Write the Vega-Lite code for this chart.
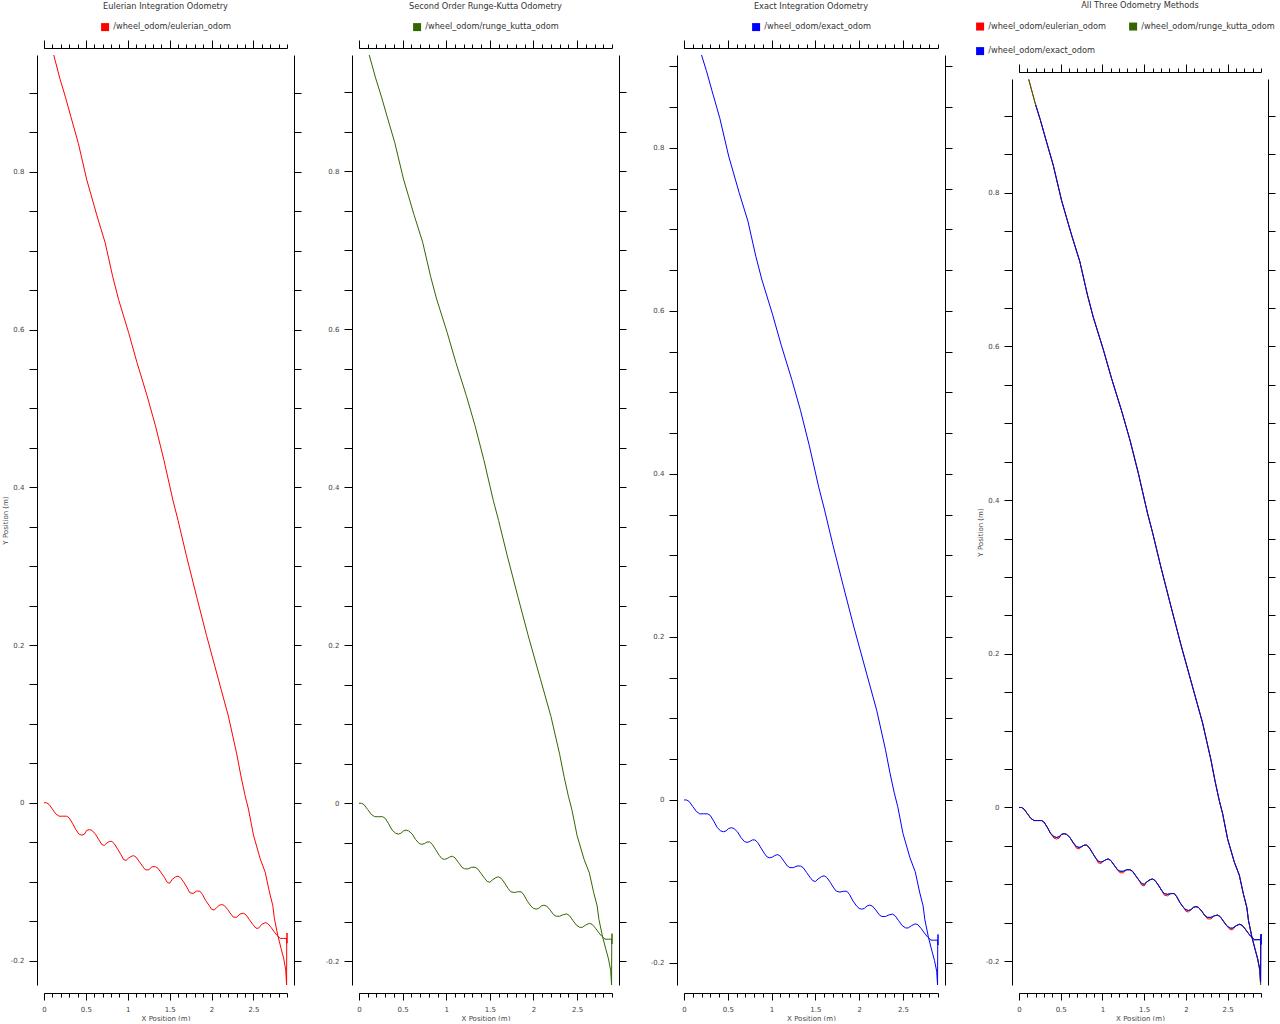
{
"$schema":"https://vega.github.io/schema/vega-lite/v6.json",
"padding":{"left":1,"top":0,"right":0,"bottom":0},
"spacing":23,
"datasets":{
"e":[{"x":0,"y":0},{"x":0.03,"y":0},{"x":0.06,"y":-0.002},{"x":0.1,"y":-0.008},{"x":0.14,"y":-0.014},{"x":0.18,"y":-0.017},{"x":0.22,"y":-0.017},{"x":0.27,"y":-0.017},{"x":0.3,"y":-0.019},{"x":0.34,"y":-0.026},{"x":0.38,"y":-0.034},{"x":0.42,"y":-0.04},{"x":0.45,"y":-0.041},{"x":0.48,"y":-0.04},{"x":0.51,"y":-0.035},{"x":0.54,"y":-0.034},{"x":0.57,"y":-0.035},{"x":0.61,"y":-0.039},{"x":0.65,"y":-0.046},{"x":0.69,"y":-0.053},{"x":0.72,"y":-0.054},{"x":0.75,"y":-0.051},{"x":0.78,"y":-0.049},{"x":0.81,"y":-0.049},{"x":0.84,"y":-0.052},{"x":0.88,"y":-0.059},{"x":0.92,"y":-0.066},{"x":0.95,"y":-0.072},{"x":0.98,"y":-0.073},{"x":1.01,"y":-0.07},{"x":1.04,"y":-0.068},{"x":1.07,"y":-0.067},{"x":1.1,"y":-0.069},{"x":1.14,"y":-0.075},{"x":1.18,"y":-0.081},{"x":1.21,"y":-0.085},{"x":1.25,"y":-0.085},{"x":1.29,"y":-0.081},{"x":1.33,"y":-0.081},{"x":1.36,"y":-0.083},{"x":1.4,"y":-0.089},{"x":1.44,"y":-0.095},{"x":1.47,"y":-0.101},{"x":1.5,"y":-0.102},{"x":1.53,"y":-0.097},{"x":1.57,"y":-0.094},{"x":1.6,"y":-0.093},{"x":1.63,"y":-0.095},{"x":1.67,"y":-0.101},{"x":1.71,"y":-0.108},{"x":1.74,"y":-0.114},{"x":1.78,"y":-0.115},{"x":1.82,"y":-0.112},{"x":1.86,"y":-0.112},{"x":1.89,"y":-0.116},{"x":1.93,"y":-0.124},{"x":1.97,"y":-0.13},{"x":2,"y":-0.135},{"x":2.03,"y":-0.136},{"x":2.06,"y":-0.133},{"x":2.09,"y":-0.13},{"x":2.12,"y":-0.129},{"x":2.15,"y":-0.13},{"x":2.19,"y":-0.135},{"x":2.23,"y":-0.141},{"x":2.26,"y":-0.145},{"x":2.3,"y":-0.145},{"x":2.34,"y":-0.141},{"x":2.38,"y":-0.14},{"x":2.41,"y":-0.142},{"x":2.45,"y":-0.148},{"x":2.49,"y":-0.154},{"x":2.53,"y":-0.159},{"x":2.56,"y":-0.159},{"x":2.6,"y":-0.154},{"x":2.64,"y":-0.152},{"x":2.67,"y":-0.153},{"x":2.71,"y":-0.158},{"x":2.75,"y":-0.164},{"x":2.78,"y":-0.168},{"x":2.82,"y":-0.172},{"x":2.86,"y":-0.172},{"x":2.9,"y":-0.172},{"x":2.9,"y":-0.165},{"x":2.9,"y":-0.178},{"x":2.897,"y":-0.172},{"x":2.895,"y":-0.231},{"x":2.885,"y":-0.212},{"x":2.86,"y":-0.197},{"x":2.83,"y":-0.185},{"x":2.79,"y":-0.168},{"x":2.75,"y":-0.147},{"x":2.73,"y":-0.13},{"x":2.69,"y":-0.113},{"x":2.64,"y":-0.088},{"x":2.58,"y":-0.071},{"x":2.5,"y":-0.041},{"x":2.44,"y":-0.008},{"x":2.4,"y":0.009},{"x":2.35,"y":0.034},{"x":2.3,"y":0.062},{"x":2.2,"y":0.11},{"x":2.08,"y":0.157},{"x":1.94,"y":0.212},{"x":1.82,"y":0.262},{"x":1.7,"y":0.313},{"x":1.6,"y":0.358},{"x":1.54,"y":0.383},{"x":1.43,"y":0.435},{"x":1.33,"y":0.478},{"x":1.23,"y":0.516},{"x":1.11,"y":0.558},{"x":1.01,"y":0.596},{"x":0.89,"y":0.638},{"x":0.82,"y":0.667},{"x":0.73,"y":0.71},{"x":0.63,"y":0.745},{"x":0.51,"y":0.79},{"x":0.41,"y":0.836},{"x":0.32,"y":0.87},{"x":0.255,"y":0.895},{"x":0.19,"y":0.918},{"x":0.116,"y":0.948}],
"r":[{"x":0,"y":0},{"x":0.03,"y":0},{"x":0.06,"y":-0.002},{"x":0.1,"y":-0.008},{"x":0.14,"y":-0.014},{"x":0.18,"y":-0.017},{"x":0.22,"y":-0.017},{"x":0.27,"y":-0.017},{"x":0.3,"y":-0.019},{"x":0.34,"y":-0.026},{"x":0.38,"y":-0.034},{"x":0.42,"y":-0.038},{"x":0.45,"y":-0.039},{"x":0.48,"y":-0.038},{"x":0.51,"y":-0.035},{"x":0.54,"y":-0.034},{"x":0.57,"y":-0.035},{"x":0.61,"y":-0.039},{"x":0.65,"y":-0.046},{"x":0.69,"y":-0.051},{"x":0.72,"y":-0.052},{"x":0.75,"y":-0.051},{"x":0.78,"y":-0.049},{"x":0.81,"y":-0.049},{"x":0.84,"y":-0.052},{"x":0.88,"y":-0.059},{"x":0.92,"y":-0.066},{"x":0.95,"y":-0.07},{"x":0.98,"y":-0.071},{"x":1.01,"y":-0.07},{"x":1.04,"y":-0.068},{"x":1.07,"y":-0.067},{"x":1.1,"y":-0.069},{"x":1.14,"y":-0.075},{"x":1.18,"y":-0.081},{"x":1.21,"y":-0.083},{"x":1.25,"y":-0.083},{"x":1.29,"y":-0.081},{"x":1.33,"y":-0.081},{"x":1.36,"y":-0.083},{"x":1.4,"y":-0.089},{"x":1.44,"y":-0.095},{"x":1.47,"y":-0.099},{"x":1.5,"y":-0.1},{"x":1.53,"y":-0.097},{"x":1.57,"y":-0.094},{"x":1.6,"y":-0.093},{"x":1.63,"y":-0.095},{"x":1.67,"y":-0.101},{"x":1.71,"y":-0.108},{"x":1.74,"y":-0.112},{"x":1.78,"y":-0.113},{"x":1.82,"y":-0.112},{"x":1.86,"y":-0.112},{"x":1.89,"y":-0.116},{"x":1.93,"y":-0.124},{"x":1.97,"y":-0.13},{"x":2,"y":-0.133},{"x":2.03,"y":-0.134},{"x":2.06,"y":-0.133},{"x":2.09,"y":-0.13},{"x":2.12,"y":-0.129},{"x":2.15,"y":-0.13},{"x":2.19,"y":-0.135},{"x":2.23,"y":-0.141},{"x":2.26,"y":-0.143},{"x":2.3,"y":-0.143},{"x":2.34,"y":-0.141},{"x":2.38,"y":-0.14},{"x":2.41,"y":-0.142},{"x":2.45,"y":-0.148},{"x":2.49,"y":-0.154},{"x":2.53,"y":-0.157},{"x":2.56,"y":-0.157},{"x":2.6,"y":-0.154},{"x":2.64,"y":-0.152},{"x":2.67,"y":-0.153},{"x":2.71,"y":-0.158},{"x":2.75,"y":-0.164},{"x":2.78,"y":-0.168},{"x":2.82,"y":-0.172},{"x":2.86,"y":-0.172},{"x":2.9,"y":-0.172},{"x":2.9,"y":-0.165},{"x":2.9,"y":-0.178},{"x":2.897,"y":-0.172},{"x":2.895,"y":-0.23},{"x":2.885,"y":-0.212},{"x":2.86,"y":-0.197},{"x":2.83,"y":-0.185},{"x":2.79,"y":-0.168},{"x":2.75,"y":-0.147},{"x":2.73,"y":-0.13},{"x":2.69,"y":-0.113},{"x":2.64,"y":-0.088},{"x":2.58,"y":-0.071},{"x":2.5,"y":-0.041},{"x":2.44,"y":-0.008},{"x":2.4,"y":0.009},{"x":2.35,"y":0.034},{"x":2.3,"y":0.062},{"x":2.2,"y":0.11},{"x":2.08,"y":0.157},{"x":1.94,"y":0.212},{"x":1.82,"y":0.262},{"x":1.7,"y":0.313},{"x":1.6,"y":0.358},{"x":1.54,"y":0.383},{"x":1.43,"y":0.435},{"x":1.33,"y":0.478},{"x":1.23,"y":0.516},{"x":1.11,"y":0.558},{"x":1.01,"y":0.596},{"x":0.89,"y":0.638},{"x":0.82,"y":0.667},{"x":0.73,"y":0.71},{"x":0.63,"y":0.745},{"x":0.51,"y":0.79},{"x":0.41,"y":0.836},{"x":0.32,"y":0.87},{"x":0.255,"y":0.895},{"x":0.19,"y":0.918},{"x":0.117,"y":0.947}],
"x":[{"x":0,"y":0},{"x":0.03,"y":0},{"x":0.06,"y":-0.002},{"x":0.1,"y":-0.008},{"x":0.14,"y":-0.014},{"x":0.18,"y":-0.017},{"x":0.22,"y":-0.017},{"x":0.27,"y":-0.017},{"x":0.3,"y":-0.019},{"x":0.34,"y":-0.026},{"x":0.38,"y":-0.034},{"x":0.42,"y":-0.038},{"x":0.45,"y":-0.039},{"x":0.48,"y":-0.038},{"x":0.51,"y":-0.035},{"x":0.54,"y":-0.034},{"x":0.57,"y":-0.035},{"x":0.61,"y":-0.039},{"x":0.65,"y":-0.046},{"x":0.69,"y":-0.051},{"x":0.72,"y":-0.052},{"x":0.75,"y":-0.051},{"x":0.78,"y":-0.049},{"x":0.81,"y":-0.049},{"x":0.84,"y":-0.052},{"x":0.88,"y":-0.059},{"x":0.92,"y":-0.066},{"x":0.95,"y":-0.07},{"x":0.98,"y":-0.071},{"x":1.01,"y":-0.07},{"x":1.04,"y":-0.068},{"x":1.07,"y":-0.067},{"x":1.1,"y":-0.069},{"x":1.14,"y":-0.075},{"x":1.18,"y":-0.081},{"x":1.21,"y":-0.083},{"x":1.25,"y":-0.083},{"x":1.29,"y":-0.081},{"x":1.33,"y":-0.081},{"x":1.36,"y":-0.083},{"x":1.4,"y":-0.089},{"x":1.44,"y":-0.095},{"x":1.47,"y":-0.099},{"x":1.5,"y":-0.1},{"x":1.53,"y":-0.097},{"x":1.57,"y":-0.094},{"x":1.6,"y":-0.093},{"x":1.63,"y":-0.095},{"x":1.67,"y":-0.101},{"x":1.71,"y":-0.108},{"x":1.74,"y":-0.112},{"x":1.78,"y":-0.113},{"x":1.82,"y":-0.112},{"x":1.86,"y":-0.112},{"x":1.89,"y":-0.116},{"x":1.93,"y":-0.124},{"x":1.97,"y":-0.13},{"x":2,"y":-0.133},{"x":2.03,"y":-0.134},{"x":2.06,"y":-0.133},{"x":2.09,"y":-0.13},{"x":2.12,"y":-0.129},{"x":2.15,"y":-0.13},{"x":2.19,"y":-0.135},{"x":2.23,"y":-0.141},{"x":2.26,"y":-0.143},{"x":2.3,"y":-0.143},{"x":2.34,"y":-0.141},{"x":2.38,"y":-0.14},{"x":2.41,"y":-0.142},{"x":2.45,"y":-0.148},{"x":2.49,"y":-0.154},{"x":2.53,"y":-0.157},{"x":2.56,"y":-0.157},{"x":2.6,"y":-0.154},{"x":2.64,"y":-0.152},{"x":2.67,"y":-0.153},{"x":2.71,"y":-0.158},{"x":2.75,"y":-0.164},{"x":2.78,"y":-0.168},{"x":2.82,"y":-0.172},{"x":2.86,"y":-0.172},{"x":2.9,"y":-0.172},{"x":2.9,"y":-0.165},{"x":2.9,"y":-0.178},{"x":2.897,"y":-0.172},{"x":2.895,"y":-0.227},{"x":2.885,"y":-0.21},{"x":2.86,"y":-0.197},{"x":2.83,"y":-0.185},{"x":2.79,"y":-0.168},{"x":2.75,"y":-0.147},{"x":2.73,"y":-0.13},{"x":2.69,"y":-0.113},{"x":2.64,"y":-0.088},{"x":2.58,"y":-0.071},{"x":2.5,"y":-0.041},{"x":2.44,"y":-0.008},{"x":2.4,"y":0.009},{"x":2.35,"y":0.034},{"x":2.3,"y":0.062},{"x":2.2,"y":0.11},{"x":2.08,"y":0.157},{"x":1.94,"y":0.212},{"x":1.82,"y":0.262},{"x":1.7,"y":0.313},{"x":1.6,"y":0.358},{"x":1.54,"y":0.383},{"x":1.43,"y":0.435},{"x":1.33,"y":0.478},{"x":1.23,"y":0.516},{"x":1.11,"y":0.558},{"x":1.01,"y":0.596},{"x":0.89,"y":0.638},{"x":0.82,"y":0.667},{"x":0.73,"y":0.71},{"x":0.63,"y":0.745},{"x":0.51,"y":0.79},{"x":0.41,"y":0.836},{"x":0.32,"y":0.87},{"x":0.255,"y":0.895},{"x":0.2,"y":0.914}]
},
"hconcat":[
{"width":243,"height":930,"title":"Eulerian Integration Odometry","data":{"name":"e"},
"layer":[
{"mark":{"type":"line","strokeWidth":1},"encoding":{
"x":{"field":"x","type":"quantitative","scale":{"domain":[0,2.9],"nice":false,"zero":false},"axis":{"orient":"bottom","offset":8,"values":[0,0.5,1,1.5,2,2.5],"tickSize":7,"format":"~g","labelPadding":5,"title":"X Position (m)","titlePadding":2}},
"y":{"field":"y","type":"quantitative","scale":{"domain":[-0.231,0.948],"nice":false,"zero":false},"axis":{"orient":"left","offset":7,"values":[-0.2,-0.15,-0.1,-0.05,0,0.05,0.1,0.15,0.2,0.25,0.3,0.35,0.4,0.45,0.5,0.55,0.6,0.65,0.7,0.75,0.8,0.85,0.9],"tickSize":8,"format":"~g","labelPadding":5,"labelExpr":"abs(datum.value*5-round(datum.value*5))<0.0001 ? replace(datum.label,'\u2212','-') : ''","title":"Y Position (m)","titlePadding":2}},
"color":{"datum":"/wheel_odom/eulerian_odom","type":"nominal","scale":{"domain":["/wheel_odom/eulerian_odom"],"range":["#ff0000"]},"legend":{"orient":"top","title":null,"symbolType":"square","symbolSize":16,"symbolStrokeWidth":4,"symbolOpacity":1,"labelFont":"DejaVu Sans","labelFontSize":8.2,"labelColor":"#333333","offset":1,"labelOffset":4}},
"order":{"value":null}}},
{"mark":{"type":"line","strokeOpacity":0},"encoding":{
"x":{"field":"x","type":"quantitative","scale":{"domain":[0,2.9],"nice":false,"zero":false},"axis":{"orient":"bottom","offset":8,"values":[0,0.1,0.2,0.3,0.4,0.5,0.6,0.7,0.8,0.9,1,1.1,1.2,1.3,1.4,1.5,1.6,1.7,1.8,1.9,2,2.1,2.2,2.3,2.4,2.5,2.6,2.7,2.8,2.9],"tickSize":4,"labels":false,"domain":false,"title":null}},
"y":{"field":"y","type":"quantitative","scale":{"domain":[-0.231,0.948],"nice":false,"zero":false},"axis":{"orient":"right","offset":7,"values":[-0.2,-0.15,-0.1,-0.05,0,0.05,0.1,0.15,0.2,0.25,0.3,0.35,0.4,0.45,0.5,0.55,0.6,0.65,0.7,0.75,0.8,0.85,0.9],"tickSize":7,"labels":false,"title":null}},
"order":{"value":null}}},
{"mark":{"type":"line","strokeOpacity":0},"encoding":{
"x":{"field":"x","type":"quantitative","scale":{"domain":[0,2.9],"nice":false,"zero":false},"axis":{"orient":"top","offset":7,"values":[0,0.5,1,1.5,2,2.5],"tickSize":8,"labels":false,"title":null}},
"y":{"field":"y","type":"quantitative","scale":{"domain":[-0.231,0.948],"nice":false,"zero":false},"axis":null},
"order":{"value":null}}},
{"mark":{"type":"line","strokeOpacity":0},"encoding":{
"x":{"field":"x","type":"quantitative","scale":{"domain":[0,2.9],"nice":false,"zero":false},"axis":{"orient":"top","offset":7,"values":[0,0.1,0.2,0.3,0.4,0.5,0.6,0.7,0.8,0.9,1,1.1,1.2,1.3,1.4,1.5,1.6,1.7,1.8,1.9,2,2.1,2.2,2.3,2.4,2.5,2.6,2.7,2.8,2.9],"tickSize":4,"labels":false,"domain":false,"title":null}},
"y":{"field":"y","type":"quantitative","scale":{"domain":[-0.231,0.948],"nice":false,"zero":false},"axis":null},
"order":{"value":null}}}
],
"resolve":{"scale":{"x":"independent","y":"independent"}}},

{"width":253,"height":930,"title":"Second Order Runge-Kutta Odometry","data":{"name":"r"},
"layer":[
{"mark":{"type":"line","strokeWidth":1},"encoding":{
"x":{"field":"x","type":"quantitative","scale":{"domain":[0,2.9],"nice":false,"zero":false},"axis":{"orient":"bottom","offset":8,"values":[0,0.5,1,1.5,2,2.5],"tickSize":7,"format":"~g","labelPadding":5,"title":"X Position (m)","titlePadding":2}},
"y":{"field":"y","type":"quantitative","scale":{"domain":[-0.23,0.947],"nice":false,"zero":false},"axis":{"orient":"left","offset":7,"values":[-0.2,-0.15,-0.1,-0.05,0,0.05,0.1,0.15,0.2,0.25,0.3,0.35,0.4,0.45,0.5,0.55,0.6,0.65,0.7,0.75,0.8,0.85,0.9],"tickSize":8,"format":"~g","labelPadding":5,"labelExpr":"abs(datum.value*5-round(datum.value*5))<0.0001 ? replace(datum.label,'\u2212','-') : ''","title":null}},
"color":{"datum":"/wheel_odom/runge_kutta_odom","type":"nominal","scale":{"domain":["/wheel_odom/runge_kutta_odom"],"range":["#336600"]},"legend":{"orient":"top","title":null,"symbolType":"square","symbolSize":16,"symbolStrokeWidth":4,"symbolOpacity":1,"labelFont":"DejaVu Sans","labelFontSize":8.2,"labelColor":"#333333","offset":1,"labelOffset":4}},
"order":{"value":null}}},
{"mark":{"type":"line","strokeOpacity":0},"encoding":{
"x":{"field":"x","type":"quantitative","scale":{"domain":[0,2.9],"nice":false,"zero":false},"axis":{"orient":"bottom","offset":8,"values":[0,0.1,0.2,0.3,0.4,0.5,0.6,0.7,0.8,0.9,1,1.1,1.2,1.3,1.4,1.5,1.6,1.7,1.8,1.9,2,2.1,2.2,2.3,2.4,2.5,2.6,2.7,2.8,2.9],"tickSize":4,"labels":false,"domain":false,"title":null}},
"y":{"field":"y","type":"quantitative","scale":{"domain":[-0.23,0.947],"nice":false,"zero":false},"axis":{"orient":"right","offset":7,"values":[-0.2,-0.15,-0.1,-0.05,0,0.05,0.1,0.15,0.2,0.25,0.3,0.35,0.4,0.45,0.5,0.55,0.6,0.65,0.7,0.75,0.8,0.85,0.9],"tickSize":7,"labels":false,"title":null}},
"order":{"value":null}}},
{"mark":{"type":"line","strokeOpacity":0},"encoding":{
"x":{"field":"x","type":"quantitative","scale":{"domain":[0,2.9],"nice":false,"zero":false},"axis":{"orient":"top","offset":7,"values":[0,0.5,1,1.5,2,2.5],"tickSize":8,"labels":false,"title":null}},
"y":{"field":"y","type":"quantitative","scale":{"domain":[-0.23,0.947],"nice":false,"zero":false},"axis":null},
"order":{"value":null}}},
{"mark":{"type":"line","strokeOpacity":0},"encoding":{
"x":{"field":"x","type":"quantitative","scale":{"domain":[0,2.9],"nice":false,"zero":false},"axis":{"orient":"top","offset":7,"values":[0,0.1,0.2,0.3,0.4,0.5,0.6,0.7,0.8,0.9,1,1.1,1.2,1.3,1.4,1.5,1.6,1.7,1.8,1.9,2,2.1,2.2,2.3,2.4,2.5,2.6,2.7,2.8,2.9],"tickSize":4,"labels":false,"domain":false,"title":null}},
"y":{"field":"y","type":"quantitative","scale":{"domain":[-0.23,0.947],"nice":false,"zero":false},"axis":null},
"order":{"value":null}}}
],
"resolve":{"scale":{"x":"independent","y":"independent"}}},

{"width":254,"height":930,"title":"Exact Integration Odometry","data":{"name":"x"},
"layer":[
{"mark":{"type":"line","strokeWidth":1},"encoding":{
"x":{"field":"x","type":"quantitative","scale":{"domain":[0,2.9],"nice":false,"zero":false},"axis":{"orient":"bottom","offset":8,"values":[0,0.5,1,1.5,2,2.5],"tickSize":7,"format":"~g","labelPadding":5,"title":"X Position (m)","titlePadding":2}},
"y":{"field":"y","type":"quantitative","scale":{"domain":[-0.227,0.914],"nice":false,"zero":false},"axis":{"orient":"left","offset":7,"values":[-0.2,-0.15,-0.1,-0.05,0,0.05,0.1,0.15,0.2,0.25,0.3,0.35,0.4,0.45,0.5,0.55,0.6,0.65,0.7,0.75,0.8,0.85,0.9],"tickSize":8,"format":"~g","labelPadding":5,"labelExpr":"abs(datum.value*5-round(datum.value*5))<0.0001 ? replace(datum.label,'\u2212','-') : ''","title":null}},
"color":{"datum":"/wheel_odom/exact_odom","type":"nominal","scale":{"domain":["/wheel_odom/exact_odom"],"range":["#0000ff"]},"legend":{"orient":"top","title":null,"symbolType":"square","symbolSize":16,"symbolStrokeWidth":4,"symbolOpacity":1,"labelFont":"DejaVu Sans","labelFontSize":8.2,"labelColor":"#333333","offset":1,"labelOffset":4}},
"order":{"value":null}}},
{"mark":{"type":"line","strokeOpacity":0},"encoding":{
"x":{"field":"x","type":"quantitative","scale":{"domain":[0,2.9],"nice":false,"zero":false},"axis":{"orient":"bottom","offset":8,"values":[0,0.1,0.2,0.3,0.4,0.5,0.6,0.7,0.8,0.9,1,1.1,1.2,1.3,1.4,1.5,1.6,1.7,1.8,1.9,2,2.1,2.2,2.3,2.4,2.5,2.6,2.7,2.8,2.9],"tickSize":4,"labels":false,"domain":false,"title":null}},
"y":{"field":"y","type":"quantitative","scale":{"domain":[-0.227,0.914],"nice":false,"zero":false},"axis":{"orient":"right","offset":7,"values":[-0.2,-0.15,-0.1,-0.05,0,0.05,0.1,0.15,0.2,0.25,0.3,0.35,0.4,0.45,0.5,0.55,0.6,0.65,0.7,0.75,0.8,0.85,0.9],"tickSize":7,"labels":false,"title":null}},
"order":{"value":null}}},
{"mark":{"type":"line","strokeOpacity":0},"encoding":{
"x":{"field":"x","type":"quantitative","scale":{"domain":[0,2.9],"nice":false,"zero":false},"axis":{"orient":"top","offset":7,"values":[0,0.5,1,1.5,2,2.5],"tickSize":8,"labels":false,"title":null}},
"y":{"field":"y","type":"quantitative","scale":{"domain":[-0.227,0.914],"nice":false,"zero":false},"axis":null},
"order":{"value":null}}},
{"mark":{"type":"line","strokeOpacity":0},"encoding":{
"x":{"field":"x","type":"quantitative","scale":{"domain":[0,2.9],"nice":false,"zero":false},"axis":{"orient":"top","offset":7,"values":[0,0.1,0.2,0.3,0.4,0.5,0.6,0.7,0.8,0.9,1,1.1,1.2,1.3,1.4,1.5,1.6,1.7,1.8,1.9,2,2.1,2.2,2.3,2.4,2.5,2.6,2.7,2.8,2.9],"tickSize":4,"labels":false,"domain":false,"title":null}},
"y":{"field":"y","type":"quantitative","scale":{"domain":[-0.227,0.914],"nice":false,"zero":false},"axis":null},
"order":{"value":null}}}
],
"resolve":{"scale":{"x":"independent","y":"independent"}}},

{"width":242,"height":930,"title":"All Three Odometry Methods",
"layer":[
{"layer":[
{"data":{"name":"e"},"mark":{"type":"line","strokeWidth":1},"encoding":{
"x":{"field":"x","type":"quantitative","scale":{"domain":[0,2.9],"nice":false,"zero":false},"axis":{"orient":"bottom","offset":8,"values":[0,0.5,1,1.5,2,2.5],"tickSize":7,"format":"~g","labelPadding":5,"title":"X Position (m)","titlePadding":2}},
"y":{"field":"y","type":"quantitative","scale":{"domain":[-0.231,0.948],"range":[930,24],"nice":false,"zero":false},"axis":{"orient":"left","offset":7,"values":[-0.2,-0.15,-0.1,-0.05,0,0.05,0.1,0.15,0.2,0.25,0.3,0.35,0.4,0.45,0.5,0.55,0.6,0.65,0.7,0.75,0.8,0.85,0.9],"tickSize":8,"format":"~g","labelPadding":5,"labelExpr":"abs(datum.value*5-round(datum.value*5))<0.0001 ? replace(datum.label,'\u2212','-') : ''","title":"Y Position (m)","titlePadding":2}},
"color":{"datum":"/wheel_odom/eulerian_odom","type":"nominal","scale":{"domain":["/wheel_odom/eulerian_odom","/wheel_odom/runge_kutta_odom","/wheel_odom/exact_odom"],"range":["#ff0000","#336600","#0000ff"]},"legend":{"orient":"none","legendX":-43,"legendY":-33,"columns":2,"columnPadding":17,"rowPadding":4,"direction":"horizontal","title":null,"symbolType":"square","symbolSize":16,"symbolStrokeWidth":4,"symbolOpacity":1,"labelFont":"DejaVu Sans","labelFontSize":8.2,"labelColor":"#333333","labelOffset":4}},
"order":{"value":null}}},
{"data":{"name":"r"},"mark":{"type":"line","strokeWidth":1},"encoding":{
"x":{"field":"x","type":"quantitative"},
"y":{"field":"y","type":"quantitative"},
"color":{"datum":"/wheel_odom/runge_kutta_odom","type":"nominal"},
"order":{"value":null}}},
{"data":{"name":"x"},"mark":{"type":"line","strokeWidth":1},"encoding":{
"x":{"field":"x","type":"quantitative"},
"y":{"field":"y","type":"quantitative"},
"color":{"datum":"/wheel_odom/exact_odom","type":"nominal"},
"order":{"value":null}}}
]},
{"data":{"name":"e"},"mark":{"type":"line","strokeOpacity":0},"encoding":{
"x":{"field":"x","type":"quantitative","scale":{"domain":[0,2.9],"nice":false,"zero":false},"axis":{"orient":"bottom","offset":8,"values":[0,0.1,0.2,0.3,0.4,0.5,0.6,0.7,0.8,0.9,1,1.1,1.2,1.3,1.4,1.5,1.6,1.7,1.8,1.9,2,2.1,2.2,2.3,2.4,2.5,2.6,2.7,2.8,2.9],"tickSize":4,"labels":false,"domain":false,"title":null}},
"y":{"field":"y","type":"quantitative","scale":{"domain":[-0.231,0.948],"range":[930,24],"nice":false,"zero":false},"axis":{"orient":"right","offset":7,"values":[-0.2,-0.15,-0.1,-0.05,0,0.05,0.1,0.15,0.2,0.25,0.3,0.35,0.4,0.45,0.5,0.55,0.6,0.65,0.7,0.75,0.8,0.85,0.9],"tickSize":7,"labels":false,"title":null}},
"order":{"value":null}}},
{"data":{"name":"e"},"mark":{"type":"line","strokeOpacity":0},"encoding":{
"x":{"field":"x","type":"quantitative","scale":{"domain":[0,2.9],"nice":false,"zero":false},"axis":{"orient":"top","offset":-17,"values":[0,0.5,1,1.5,2,2.5],"tickSize":8,"labels":false,"title":null}},
"y":{"field":"y","type":"quantitative","scale":{"domain":[-0.231,0.948],"range":[930,24],"nice":false,"zero":false},"axis":null},
"order":{"value":null}}},
{"data":{"name":"e"},"mark":{"type":"line","strokeOpacity":0},"encoding":{
"x":{"field":"x","type":"quantitative","scale":{"domain":[0,2.9],"nice":false,"zero":false},"axis":{"orient":"top","offset":-17,"values":[0,0.1,0.2,0.3,0.4,0.5,0.6,0.7,0.8,0.9,1,1.1,1.2,1.3,1.4,1.5,1.6,1.7,1.8,1.9,2,2.1,2.2,2.3,2.4,2.5,2.6,2.7,2.8,2.9],"tickSize":4,"labels":false,"domain":false,"title":null}},
"y":{"field":"y","type":"quantitative","scale":{"domain":[-0.231,0.948],"range":[930,24],"nice":false,"zero":false},"axis":null},
"order":{"value":null}}}
],
"resolve":{"scale":{"x":"independent","y":"independent"}}}
],
"resolve":{"scale":{"color":"independent"}},
"config":{
"view":{"stroke":null},
"font":"DejaVu Sans",
"title":{"font":"DejaVu Sans","fontSize":8.2,"fontWeight":"normal","color":"#333333","offset":12},
"axis":{"grid":false,"domainColor":"#000000","tickColor":"#000000","domainWidth":1,"tickWidth":1,"labelFont":"DejaVu Sans","labelFontSize":7,"labelColor":"#444444","titleFont":"DejaVu Sans","titleFontSize":7,"titleFontWeight":"normal","titleColor":"#444444","labelFlush":false,"labelOverlap":false},
"legend":{"layout":{"top":{"anchor":"middle"}}}
}
}
